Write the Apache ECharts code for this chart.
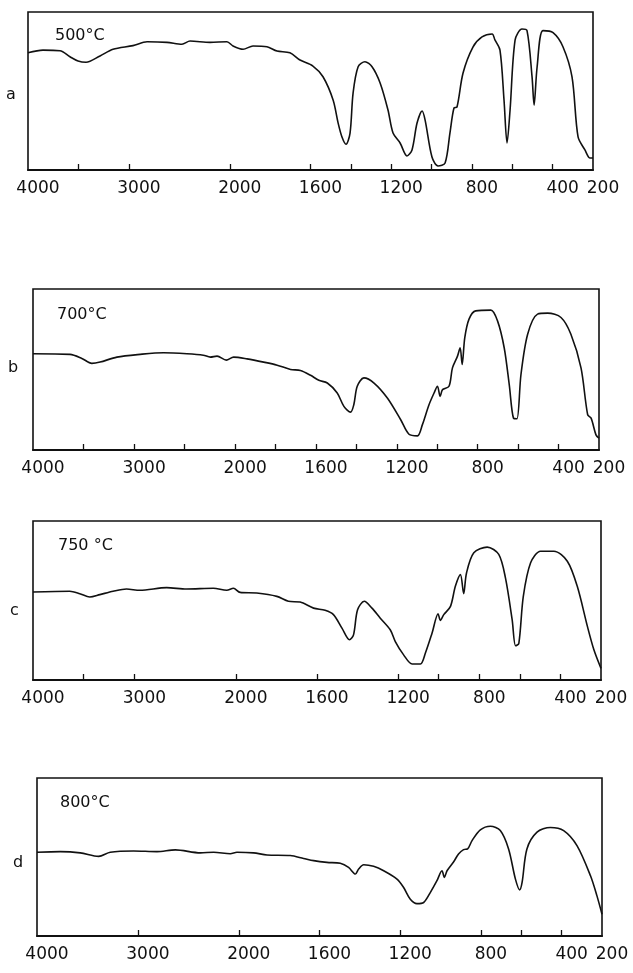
<!DOCTYPE html>
<html>
<head>
<meta charset="utf-8">
<script src="https://cdn.jsdelivr.net/npm/echarts@6/dist/echarts.min.js"></script>
<style>
html,body{margin:0;padding:0;background:#fff;}
#chart{width:633px;height:973px;}
</style>
</head>
<body>
<div id="chart"></div>
<script>
// ---- data (wavenumber cm-1, relative transmittance %) ----
const wnA = [4000,3852,3683,3584,3504,3425,3286,3157,2959,2820,2622,2474,2394,2196,2028,1984,1934,1885,1816,1766,1702,1652,1588,1538,1488,1463,1444,1424,1404,1389,1364,1330,1295,1255,1216,1191,1156,1122,1097,1072,1047,1032,998,968,933,909,889,874,844,795,750,700,686,661,641,626,611,586,552,527,502,492,477,448,398,349,304,274,240,215,200];
const trA = [74.2,75.9,75.5,71.7,69,68.2,72.2,76.4,78.7,81.2,80.8,79.6,81.6,80.8,81.2,78.5,76.4,78.5,78,75.3,74.2,69.6,65.8,59,44.3,29.7,20.9,16.3,23.4,48.7,65.4,68.5,65.4,55.1,38,23.4,17.1,8.9,12.7,29.7,37.3,31.6,8.2,2.5,4.4,23.4,39.2,39.9,61.4,77.8,84.2,86.1,82.3,75.9,44.3,17.1,38,82.3,89.2,88.2,58.9,41.1,65.2,88.2,86.9,78,58.9,20.9,12.7,7.6,7.6];

const wnB = [4000,3634,3517,3418,3336,3170,2940,2708,2477,2315,2245,2179,2087,2015,1941,1859,1792,1726,1677,1627,1586,1544,1495,1462,1429,1413,1396,1363,1313,1247,1181,1140,1098,1074,1041,1016,999,986,974,942,925,900,887,877,864,843,810,735,702,669,644,623,606,586,553,504,454,388,339,289,256,239,215,200];
const trB = [59.8,59.4,56.9,53.8,54.6,57.7,59.4,60.4,59.8,58.9,57.7,58.3,55.8,57.7,56.6,54.6,52.7,50,49.4,46.4,43.3,41.6,35.4,27.1,23.5,28.1,39.6,44.8,41.6,32.3,18.8,9.8,8.8,15.6,28.1,35.4,39.6,33.3,37.5,39.6,51,58.3,63.5,53.1,69.8,81.3,86.4,86.9,80.2,63.5,40.6,19.8,19.4,46.9,71.9,84.4,85,82.3,71.9,51,21.9,19.8,9.4,7.3];

const wnC = [4000,3638,3539,3440,3341,3210,3078,2946,2682,2486,2222,2090,2024,1979,1897,1798,1741,1683,1617,1560,1519,1477,1440,1420,1400,1367,1329,1288,1239,1214,1173,1131,1090,1066,1033,1003,992,975,942,918,893,877,863,827,761,704,671,638,621,605,583,547,498,432,366,317,267,235,200];
const trC = [55.3,55.8,54.3,52.2,53.7,55.8,57.2,56.4,58.1,57.2,57.7,56.4,57.7,55.1,54.7,52.6,49.5,49,45.2,43.8,41.1,32.6,25.3,28.4,44.2,49.5,45.2,38.9,31.6,24.2,15.8,10.1,10.1,16.8,29.4,41.7,37.5,41.1,46.3,58.9,66.3,54.3,67.3,80,83.6,79,64.2,37.9,21.5,23.1,52.6,73.7,81,81,74.7,58.9,33.7,19,7.3];

const wnD = [4000,3770,3571,3389,3274,3043,2811,2629,2381,2249,2084,2018,1927,1860,1745,1679,1629,1563,1497,1456,1422,1406,1381,1332,1282,1216,1183,1150,1117,1084,1051,1018,993,981,968,935,911,886,866,844,803,753,704,663,629,608,596,572,522,456,390,324,257,225,200];
const trD = [53,53.4,52.6,50.4,53,53.8,53.4,54.5,52.6,53,52.1,53,52.6,51.3,50.9,49.1,47.7,46.6,46,43.4,39.2,42.4,45.1,44.1,41.3,36,30.7,23.3,20.5,21.2,27.5,35,41.3,37.1,41.3,47,51.9,54.7,55.1,60.4,67.2,69.5,66.7,55.1,36,29.2,33.9,55.1,65.7,68.7,66.7,57.2,38.1,25.4,13.8];

const labelValues = [4000,3000,2000,1600,1200,800,400,200];
const ticksA = [3500,3000,2000,1600,1400,1200,1000,800,600,400];
const ticksB = [3500,3000,2500,2000,1800,1600,1400,1200,1000,800,600,400];
const ticksC = [3500,3000,2000,1600,1200,1000,800,600,400];
const ticksD = [3000,2000,1600,1200,800,600,400];

const panelLetters = ['a','b','c','d'];
const panelTemps = ['500°C','700°C','750 °C','800°C'];

// ---- IR chart abscissa: scale doubles below 2000 cm-1 ----
const fwd = w => w >= 2000 ? (4000 - w) / 2 : 1000 + (2000 - w);
const inv = v => Math.round(v <= 1000 ? 4000 - 2 * v : 2000 - (v - 1000));

// layout (pixels)
const layout = [
  {left:28, top:12,  width:565, height:158, letter:[11,97],  temp:[55,38]},
  {left:33, top:289, width:566, height:161, letter:[13,370], temp:[57,317]},
  {left:33, top:521, width:568, height:159, letter:[15,613], temp:[58,548]},
  {left:37, top:778, width:565, height:158, letter:[18,865], temp:[60,805]}
];
const series = [[wnA,trA,ticksA],[wnB,trB,ticksB],[wnC,trC,ticksC],[wnD,trD,ticksD]];

const font = 'DejaVu Sans';
const ink = '#111';
const option = {
  backgroundColor:'#fff',
  animation:false,
  grid: layout.map(l => ({left:l.left, top:l.top, width:l.width, height:l.height,
    show:true, borderColor:ink, borderWidth:1.6, backgroundColor:'transparent'})),
  xAxis: series.map((s,i) => ({
    type:'value', gridIndex:i, min:0, max:2800,
    axisLine:{show:true, lineStyle:{color:ink, width:2}},
    splitLine:{show:false},
    axisTick:{show:true, inside:true, length:6, customValues:s[2].map(fwd), lineStyle:{color:ink, width:1.3}},
    axisLabel:{show:true, customValues:labelValues.map(fwd), formatter:v => String(inv(v)),
      color:ink, fontFamily:font, fontSize:17, margin:10, padding:[0,0,0,20]}
  })),
  yAxis: series.map((s,i) => ({
    type:'value', gridIndex:i, min:0, max:100,
    axisLine:{show:false}, axisTick:{show:false}, axisLabel:{show:false}, splitLine:{show:false}
  })),
  title: [].concat(
    layout.map((l,i) => ({text:panelTemps[i], left:l.temp[0], top:l.temp[1]-10, padding:0,
      textStyle:{fontFamily:font, fontSize:16, fontWeight:'normal', color:ink}})),
    layout.map((l,i) => ({text:panelLetters[i], left:l.letter[0]-5, top:l.letter[1]-10, padding:0,
      textStyle:{fontFamily:font, fontSize:16, fontWeight:'normal', color:ink}}))
  ),
  series: series.map((s,i) => ({
    type:'line', xAxisIndex:i, yAxisIndex:i, showSymbol:false, smooth:0.3,
    lineStyle:{color:ink, width:1.6},
    data: s[0].map((w,j) => [fwd(w), s[1][j]])
  }))
};
echarts.init(document.getElementById('chart')).setOption(option);
</script>
</body>
</html>
